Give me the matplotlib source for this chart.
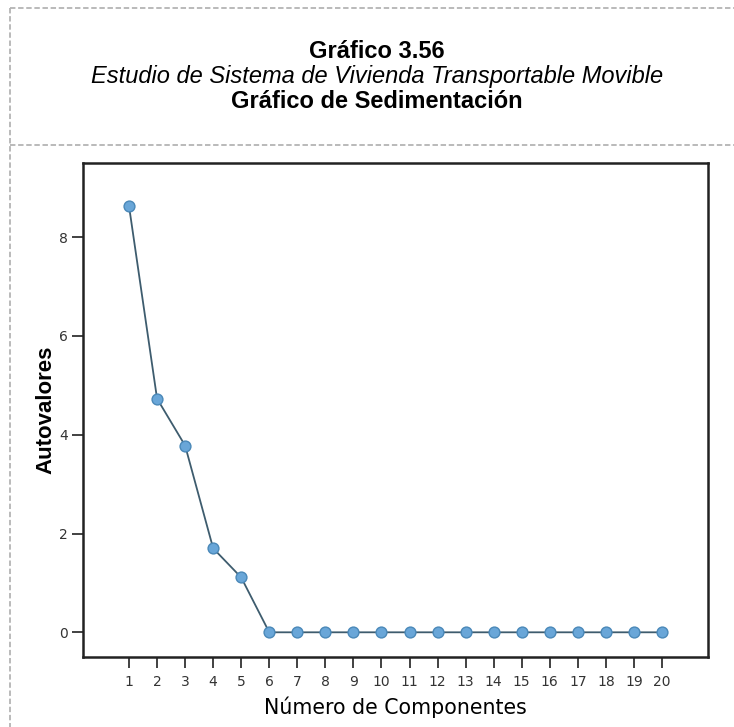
import matplotlib
matplotlib.use('Agg')
import matplotlib.pyplot as plt
from matplotlib.lines import Line2D
import numpy as np

# Screen plot data (eigenvalues per component)
componentes = list(range(1, 21))
autovalores = [8.63, 4.73, 3.78, 1.70, 1.11,
               0, 0, 0, 0, 0, 0, 0, 0, 0, 0, 0, 0, 0, 0, 0]

titulo1 = 'Gráfico 3.56'
titulo2 = 'Estudio de Sistema de Vivienda Transportable Movible'
titulo3 = 'Gráfico de Sedimentación'

W, H = 734, 727
fig = plt.figure(figsize=(W / 100, H / 100), dpi=100)
fig.patch.set_facecolor('white')

# dashed frame of the header box
def px(x, y):
    return x / W, 1 - y / H

dash = dict(color='#b4b4b4', linewidth=1.3, linestyle=(0, (3, 1.5)))
for xs, ys in [((10, W), (8, 8)), ((10, W), (145, 145)), ((10, 10), (8, H))]:
    (x0, y0), (x1, y1) = px(xs[0], ys[0]), px(xs[1], ys[1])
    fig.add_artist(Line2D([x0, x1], [y0, y1], transform=fig.transFigure, **dash))

# header text
cx = 377 / W
fig.text(cx, 1 - 58 / H, titulo1, ha='center', va='baseline', fontsize=17,
         fontweight='bold', family='Liberation Sans')
fig.text(cx, 1 - 83 / H, titulo2, ha='center', va='baseline', fontsize=17,
         fontstyle='italic', family='Liberation Sans')
fig.text(cx, 1 - 108 / H, titulo3, ha='center', va='baseline', fontsize=17,
         fontweight='bold', family='Liberation Sans')

ax = fig.add_axes([83 / W, 1 - 657 / H, (708 - 83) / W, (657 - 163) / H])
ax.plot(componentes, autovalores, color='#3e5c6e', linewidth=1.3,
        marker='o', markersize=7.8, markerfacecolor='#69a6d8',
        markeredgecolor='#4a88b8', markeredgewidth=1.0)

ax.set_xlim(-0.64, 21.64)
ax.set_ylim(-0.5, 9.5)
ax.set_xticks(componentes)
ax.set_yticks([0, 2, 4, 6, 8])
for s in ax.spines.values():
    s.set_linewidth(1.8)
    s.set_color('#222222')
ax.tick_params(axis='both', direction='out', length=8, width=1.3,
               color='#333333', labelsize=10, labelcolor='#333333')
ax.tick_params(axis='x', pad=5)
ax.tick_params(axis='y', pad=3)

ax.set_xlabel('Número de Componentes', fontsize=14.8, family='DejaVu Sans',
              labelpad=5)
ax.set_ylabel('Autovalores', fontsize=16, fontweight='bold',
              family='Liberation Sans', labelpad=2)

plt.savefig('out.png', dpi=100)
